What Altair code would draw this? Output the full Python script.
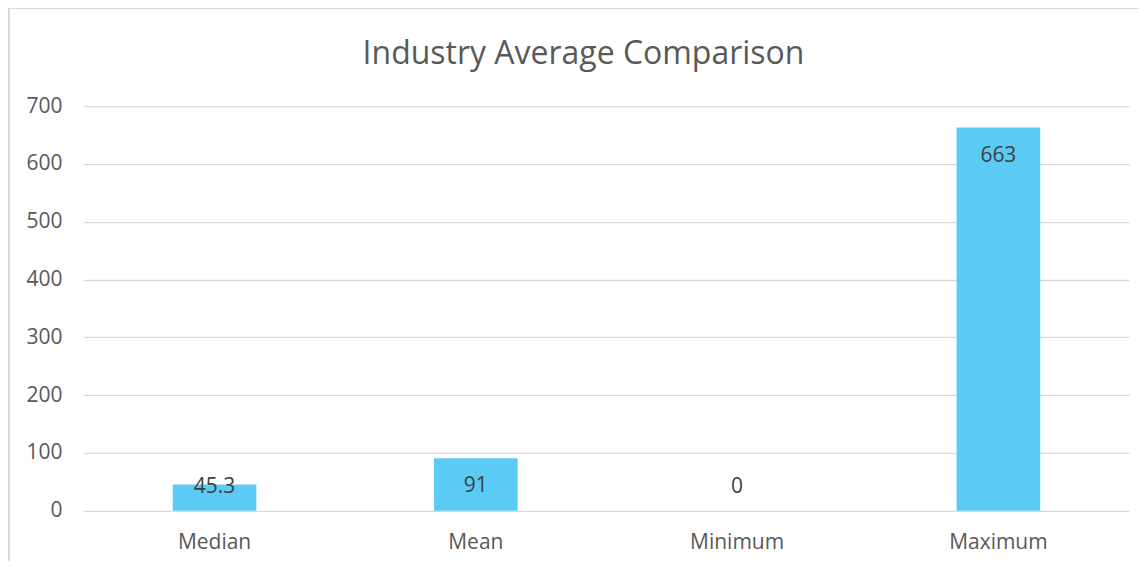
import altair as alt
import pandas as pd

categories = ["Median", "Mean", "Minimum", "Maximum"]
values = [45.3, 91, 0, 663]
labels = ["45.3", "91", "0", "663"]
title_text = "Industry Average Comparison"

df = pd.DataFrame({"category": categories, "value": values, "label": labels})

FONT = "Open Sans"
GREY = "#595959"
W, H = 1046, 405
FS = 21

x = alt.X("category:N", sort=categories, title=None,
          scale=alt.Scale(paddingInner=0.68, paddingOuter=0.34),
          axis=alt.Axis(labelAngle=0, labelFontSize=FS, labelColor=GREY, labelFont=FONT,
                        ticks=False, domain=False, labelPadding=21, grid=False))

base = alt.Chart(df)

bars = base.mark_bar(color="#5BCBF5").encode(
    x=x,
    y=alt.Y("value:Q", title=None,
            scale=alt.Scale(domain=[0, 700], nice=False),
            axis=alt.Axis(values=[0, 100, 200, 300, 400, 500, 600, 700],
                          labelFontSize=FS, labelColor=GREY, labelFont=FONT,
                          ticks=False, domain=False, labelPadding=22,
                          gridColor="#D9D9D9", gridWidth=1.3)),
)

text = base.transform_calculate(
    lpos="max(datum.value, 90)"
).mark_text(fontSize=FS, font=FONT, color="#404040", dy=28, baseline="middle").encode(
    x=alt.X("category:N", sort=categories),
    y=alt.Y("lpos:Q"),
    text="label:N",
)

title = alt.Chart(pd.DataFrame({"t": [title_text]})).mark_text(
    fontSize=32, font=FONT, color=GREY, baseline="middle", align="center", clip=False
).encode(x=alt.value(500), y=alt.value(-52), text="t:N")

frame = alt.Chart(df).mark_rule(color="#D9D9D9", strokeWidth=1.5, clip=False).encode(
    x=alt.value(-77), x2=alt.value(W + 40), y=alt.value(-98), y2=alt.value(-98)
)
frame_left = alt.Chart(df).mark_rule(color="#D9D9D9", strokeWidth=2, clip=False).encode(
    x=alt.value(-75.5), x2=alt.value(-75.5), y=alt.value(-98), y2=alt.value(H + 60)
)

chart = alt.layer(frame, frame_left, bars, text, title).properties(
    width=W, height=H,
    autosize=alt.AutoSizeParams(type="none"),
    padding={"left": 76, "top": 98, "right": 10, "bottom": 50},
).configure(background="white").configure_view(strokeWidth=0)

chart.save("out.html", embed_options={"renderer": "svg", "actions": False})
